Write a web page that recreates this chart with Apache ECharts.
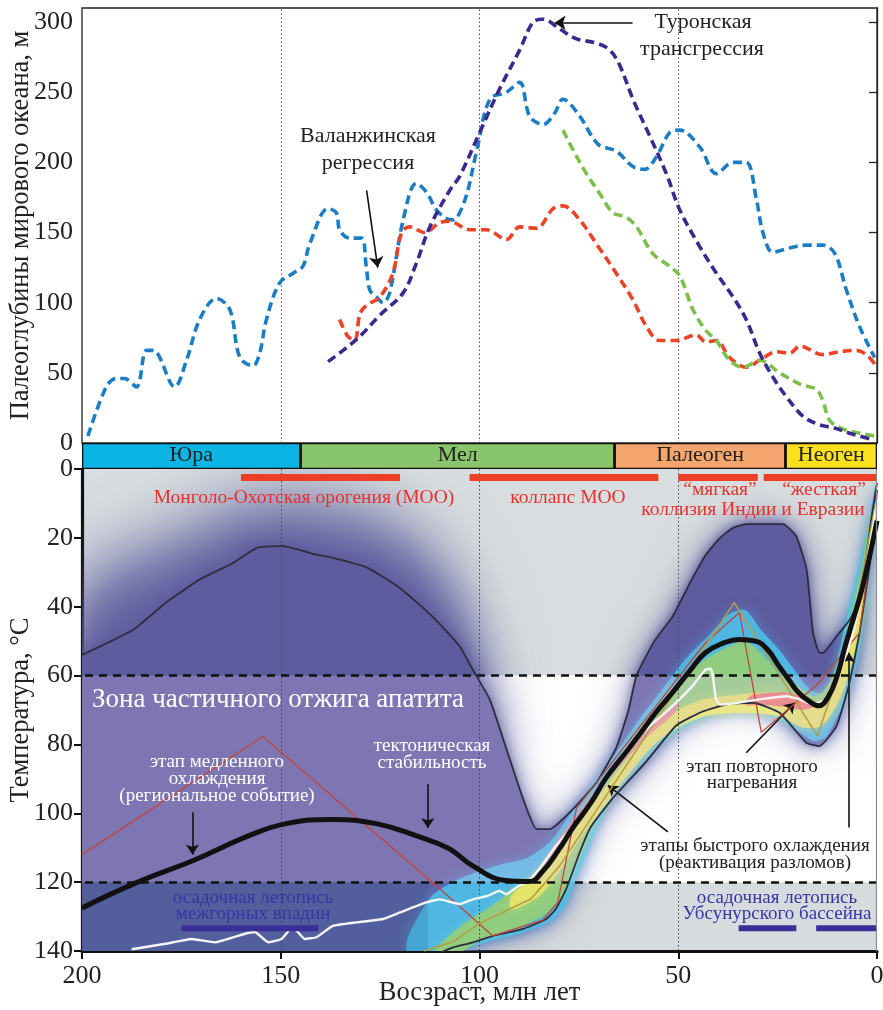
<!DOCTYPE html>
<html><head><meta charset="utf-8">
<script src="https://cdn.jsdelivr.net/npm/echarts@6/dist/echarts.min.js"></script>
<style>html,body{margin:0;padding:0;background:#fff}#c{width:883px;height:1010px}</style>
</head><body><div id="c"></div>
<script>
// ---------------- DATA ----------------
const depthTicks = [0, 50, 100, 150, 200, 250, 300];
const periodNames = ['Юра', 'Мел', 'Палеоген', 'Неоген'];
const periodStart = [200, 145, 66, 23];
const periodEnd = [145, 66, 23, 0];
const periodColors = ['#0ab4e4', '#88c56b', '#f5a66f', '#fbe11b'];
const epochLines = [150, 100, 50];

// sea level (age Ma, depth m)
const seaBlue = [[198.5,5],[193.9,40],[191.3,46],[189.3,46],[186.3,40],[183.8,66],[182.1,66],[176.7,40],[173.7,59],[170.4,88],[166.2,103],[162.8,95],[160.3,61],[157,55],[155.3,64],[153.6,88],[150.3,114],[146.9,121],[144.4,126],[142.7,142],[138.1,167],[136,164],[135.2,152],[132.7,146],[129.7,146],[128.5,126],[127.6,109],[125.9,104],[124.3,100],[122.6,107],[119.2,159],[115.9,185],[113.4,179],[110.8,166],[108.3,160],[106.7,159],[103.7,173],[100.8,207],[97.4,245],[93.2,250],[89.9,257],[87.4,233],[84,227],[81.1,235],[79,245],[74.8,233],[70.2,213],[65.6,208],[61.4,197],[58.4,195],[55.5,204],[52.2,221],[49.6,223],[44.6,211],[40.4,192],[36.2,200],[32.9,200],[30.3,173],[28.7,150],[26.2,136],[22,139],[17.8,141],[13.6,141],[10.6,135],[7.7,109],[4.4,83],[0.6,61]];
const seaPurple = [[138.1,58],[134.3,66],[130.1,76],[125.1,91],[119.2,107],[115.9,128],[112.5,154],[107.5,180],[105,190],[100,221],[95,252],[89.9,280],[86.5,300],[84,302],[79.8,295],[75.6,288],[70.6,285],[67.2,280],[64.7,269],[61.4,245],[57.2,219],[53,192],[49.6,166],[44.6,140],[40.4,121],[36.2,104],[32.9,88],[29.5,64],[26.2,47],[22.8,33],[18.6,19],[14.5,13],[11.1,11],[6.9,7],[1.9,3]];
const seaRed = [[135.2,88],[133.1,76],[131.4,73],[130.1,92],[128.5,98],[125.1,104],[121.8,121],[119.6,150],[117.6,154],[113.8,150],[110,157],[107.5,158],[102.5,152],[98.3,152],[93.2,145],[89.9,154],[85.7,153],[81.5,167],[79,169],[74.8,159],[70.6,142],[65.6,121],[61.4,102],[58,83],[54.7,73],[50.5,73],[45.5,77],[43,72],[40.4,73],[37.1,61],[32.9,54],[29.5,59],[25.3,65],[22,64],[19.4,69],[13.6,63],[9.4,65],[5.2,66],[2.7,63],[0.2,55]];
const seaGreen = [[79,223],[76.5,209],[73.1,192],[69.8,178],[66.4,164],[63.1,161],[60.5,154],[56.4,135],[52.2,126],[49.6,119],[46.3,95],[43,80],[40.4,73],[37.1,59],[33.7,54],[29.5,59],[24.5,50],[19.4,42],[15.2,38],[13.6,30],[11.9,16],[8.6,10],[4.4,7],[0.6,5]];

// thermal history (age Ma, temperature °C)
const envUpper = [[200,54],[187,46.6],[179,38.9],[170.4,32.1],[162,27.3],[156,22.9],[149.4,22.4],[141,24.9],[136.9,25.8],[128.5,28.5],[120.1,34.5],[111.7,43],[105,51.5],[101.6,58.5],[97.4,67],[93.2,81.4],[89,95.9],[85.7,104.6],[82.3,104.6],[76.5,98.8],[70.6,91.1],[65.6,81],[62.5,70],[60.5,60],[56,50],[51.4,42.8],[47,33],[43.1,25],[39.5,20],[36.2,17.1],[32.9,16],[23.6,16],[20.3,19.6],[17.7,29.2],[16.1,47.6],[14.5,53.4],[13.6,53.4],[10.2,48.6],[7,44],[4.4,38],[1.5,15],[0,4]];
const envLower = [[0,6],[1.5,25],[4.4,47.6],[6.9,62],[10.2,74.7],[14.5,80.5],[17.8,79.5],[24.5,70.8],[31.2,67.9],[37.9,68.4],[44,70.5],[50.5,74.5],[58.2,85.2],[66.6,95.8],[72,104],[74.8,111.4],[78.2,122],[80.8,127.8],[83.2,130.7],[89,133.6],[96.6,135.6],[101.6,137.5],[106.8,139],[110,140.5]];
const bestPath = [[200,127.5],[186,120],[172,113.7],[158,106.5],[148.6,103],[137,101.8],[126,103],[116,106.5],[107.6,110.3],[101.8,115.2],[93.4,119.5],[87.5,119.8],[84.2,117],[80,110.5],[76.7,104.5],[72,97],[68.3,90],[64,83.5],[60,77.5],[55.5,70.5],[51.5,65],[47,58.5],[43.1,53.3],[38.5,50.5],[34.8,49.5],[30.6,50],[27.5,52.5],[24.7,57.2],[22,61.5],[19.7,65],[17,67.5],[14.7,68.8],[12.2,66],[10,60],[8,51.4],[5.8,43],[3.8,35],[1.8,25],[0,15]];
const redPath = [[200,112],[154.5,77.7],[110,121.9],[96.7,135.6],[84.1,131],[80.3,125.8],[75.6,98.5],[52.2,63.8],[43.1,50.4],[34.6,41.7],[29.1,76.5],[14.5,62],[4.4,47.5],[0,10]];
const olivePath = [[114,140],[106.8,137.4],[100,132],[87,124.8],[79.8,115.2],[35.9,38.8],[15,77.5],[7,50.4],[0,8]];
const whitePath = [[187.5,139.5],[179,137.9],[172.4,136.5],[166.6,137.5],[159,135],[156.5,134.5],[153.1,137.5],[149.8,136.5],[147,133],[144,136.5],[141,136],[136.9,132.7],[131,131.7],[124.3,130.7],[120,128.8],[113.4,125.9],[110,125],[105,126.4],[101.6,125],[98,124],[95,122.5],[93.3,123.5],[90,121],[87.9,120],[85,116.2],[80.8,109.5],[76.5,103.7],[70,94],[63.1,81.4],[57.2,74.7],[52.2,69.7],[46.4,63],[43.1,58.2],[41.8,58],[41.3,60.2],[40.5,66.9],[39.6,68.4],[36.2,68.1],[29.5,66.9],[22.8,66],[19.5,66.9],[16.1,68.4],[12.8,66.9],[10.3,62],[6,47.6],[3,30],[0,10]];

// density regions
const hazeRegion = [[200,30],[185,21],[170,13],[160,8],[150,6],[140,7],[128,10],[118,16],[110,25],[104,38],[100,52],[98,68],[100,85],[200,85]];
const hazeCore = [[200,42],[185,33],[170,25],[160,19],[150,17],[140,18],[128,21],[118,27],[110,35],[105,46],[102,58],[102,85],[200,85]];
const cyanBand = [[118,136],[112,124],[105,119],[95,115],[88,113],[82,108],[77,100],[72,92],[66,83],[60,73],[54,64],[48,55],[42,48],[37,42],[33,41],[29,47],[25,52],[21,58],[17,64],[14,65],[11,60],[8,45],[5,30],[2,15],[0.5,5],[0.5,12],[2,30],[4,50],[7,65],[10,72],[13,78],[16,79],[20,76],[26,72],[34,70],[42,71.5],[50,76],[56,82],[61,88],[66,95],[70,103],[73,112],[76,120],[79,128],[83,132],[90,135],[100,138],[108,141],[118,141]];
const greenBand = [[112,141],[105,133],[97,127],[90,121],[84,116],[79,108],[74,99],[68,89],[62,79],[56,70],[50,62],[44,56],[38,52],[33,50],[28,55],[24,60],[20,63],[16,66],[13,64],[10,57],[7,45],[4,30],[1.5,12],[1.5,20],[4,42],[7,58],[10,68],[13,74],[16,75],[20,73],[26,71],[34,70],[42,71],[50,74],[56,79],[61,85],[66,92],[70,100],[73,108],[76,116],[79,124],[83,129],[90,133],[100,137],[106,141]];
const yellowBand = [[92,124],[86,118],[80,110],[74,101],[68,92],[62,83],[56,75],[50,70],[44,67],[38,66],[30,65],[24,65],[19,66],[15,68],[12,66],[9,58],[6,45],[3,30],[3,38],[6,55],[9,66],[12,72],[15,75],[19,75],[24,72],[30,71],[38,71],[44,72],[50,75],[56,80],[62,88],[68,97],[74,106],[80,117],[85,124],[92,128]];
const pinkA = [[84,114],[78,104],[72,95],[66,86],[60,77],[54,71],[50,68],[51,71],[57,77],[63,84],[69,92],[75,101],[81,111],[86,118]];
const pinkB = [[32,66],[27,65],[22,65],[18,67],[16,69],[19,70],[24,69],[29,68.5],[33,68.5]];

const pazLimits = [60, 120];
const redBars = [[160,120],[102.5,55],[50,30],[28.5,0]];
const redBarT = 2.5;
const blueBars = [[175,140.5],[34.8,20.3],[15.3,0]];
const blueBarT = 133.4;

// annotation arrows [from, to]
const topArrows = [[[128.4,180],[125.6,125]],[[61.5,299.4],[81.1,299.4]]];
const bottomArrows = [
  [[172.2,99.7],[172.2,112]],
  [[113,91.6],[113,104.3]],
  [[32.9,82.4],[20.7,67.9]],
  [[52.6,105.4],[67.7,91.9]],
  [[7.05,104.1],[7.05,53.4]]
];

// ---------------- CHART ----------------
const SERIF = '"Liberation Serif","DejaVu Serif",serif';
const chart = echarts.init(document.getElementById('c'), null, {renderer: 'canvas'});
const X0 = 82, XR = 6;
const SHIFT = 3000;

function custom(id, xi, yi, z, build) {
  return {type: 'custom', id, xAxisIndex: xi, yAxisIndex: yi, z, clip: true, silent: true,
    animation: false, data: [[0, 0]], encode: {x: 0, y: 1},
    renderItem: (params, api) => ({type: 'group', children: build(api)})};
}
const P = (api, pts) => pts.map(p => api.coord(p));
const purple = 'rgba(94,91,158,';
// blurred copy: only the shadow of an off-canvas shape is visible
const soft = (pts, blur, alpha) => ({type: 'polygon', x: -SHIFT, shape: {points: pts, smooth: 0.3},
  style: {fill: '#5e5b9e', shadowBlur: blur, shadowOffsetX: SHIFT, shadowColor: purple + alpha + ')'}});

const series = [];

// top curves
[[seaBlue, '#1b7dc4'], [seaRed, '#ec4327'], [seaGreen, '#7cc04b'], [seaPurple, '#3a2a8e']].forEach((c, i) => {
  series.push({type: 'line', xAxisIndex: 0, yAxisIndex: 0, data: c[0], smooth: 0.35, symbol: 'none',
    z: 5 + i, silent: true, animation: false,
    lineStyle: {color: c[1], width: 3.6, type: [9, 5]}});
});
series.push({type: 'line', xAxisIndex: 0, yAxisIndex: 0, data: [], z: 4, silent: true, animation: false,
  markLine: {silent: true, symbol: 'none', label: {show: false}, animation: false,
    lineStyle: {color: '#555', width: 1, type: [1.5, 2.5]},
    data: epochLines.map(v => ({xAxis: v}))}});
series.push({type: 'line', xAxisIndex: 0, yAxisIndex: 0, data: [], z: 9, silent: true, animation: false,
  markLine: {silent: true, symbol: ['none', 'arrow'], symbolSize: 11, label: {show: false}, animation: false,
    lineStyle: {color: '#111', width: 1.6, type: 'solid'},
    data: topArrows.map(a => [{coord: a[0]}, {coord: a[1]}])}});

// period bar
series.push(custom('periods', 2, 2, 5, api => {
  const ch = [];
  periodNames.forEach((n, i) => {
    const a = api.coord([periodStart[i], 1]), b = api.coord([periodEnd[i], 0]);
    ch.push({type: 'rect', shape: {x: a[0], y: a[1], width: b[0] - a[0], height: b[1] - a[1]},
      style: {fill: periodColors[i], stroke: '#111', lineWidth: 2.6}});
    ch.push({type: 'text', x: (a[0] + b[0]) / 2, y: (a[1] + b[1]) / 2 - 1,
      style: {text: n, font: '22px ' + SERIF, fill: '#222', align: 'center', verticalAlign: 'middle'}});
  });
  return ch;
}));
series.push({type: 'line', xAxisIndex: 2, yAxisIndex: 2, data: [], z: 8, silent: true, animation: false,
  markLine: {silent: true, symbol: 'none', label: {show: false}, animation: false,
    lineStyle: {color: '#444', width: 1, type: [1.5, 2.5]},
    data: epochLines.map(v => ({xAxis: v}))}});

// bottom plot backgrounds
series.push(custom('bg', 1, 1, 0, api => {
  const a = api.coord([200, 0]), b = api.coord([0, pazLimits[0]]), c = api.coord([0, pazLimits[1]]), d = api.coord([0, 140]);
  return [
    {type: 'rect', shape: {x: a[0], y: a[1], width: b[0] - a[0], height: b[1] - a[1]}, style: {fill: '#d8dedf'}},
    {type: 'rect', shape: {x: a[0], y: b[1], width: b[0] - a[0], height: c[1] - b[1]}, style: {fill: '#ffffff'}},
    {type: 'rect', shape: {x: a[0], y: c[1], width: b[0] - a[0], height: d[1] - c[1]}, style: {fill: '#d6dcdd'}}
  ];
}));
series.push(custom('haze', 1, 1, 1, api => [
  soft(P(api, hazeRegion), 60, 0.7),
  soft(P(api, hazeCore), 40, 0.75)
]));
series.push(custom('density', 1, 1, 2, api => {
  const main = P(api, envUpper.concat(envLower, [[200, 141]]));
  return [
    soft(main, 40, 0.6),
    {type: 'polygon', shape: {points: main}, style: {fill: '#5e5b9e', shadowBlur: 18, shadowColor: purple + '0.8)'}},
    {type: 'polygon', shape: {points: main}, style: {fill: '#5e5b9e', shadowBlur: 8, shadowColor: purple + '0.9)'}}
  ];
}));
series.push(custom('bands', 1, 1, 3, api => [
  {type: 'polygon', shape: {points: P(api, cyanBand), smooth: 0.25},
    style: {fill: 'rgba(78,190,230,0.88)', shadowBlur: 14, shadowColor: 'rgba(80,150,220,0.8)'}},
  {type: 'polygon', shape: {points: P(api, greenBand), smooth: 0.25},
    style: {fill: 'rgba(150,205,118,0.9)', shadowBlur: 10, shadowColor: 'rgba(110,205,195,0.8)'}},
  {type: 'polygon', shape: {points: P(api, yellowBand), smooth: 0.25},
    style: {fill: 'rgba(238,228,105,0.85)', shadowBlur: 8, shadowColor: 'rgba(200,225,110,0.8)'}},
  {type: 'polygon', shape: {points: P(api, pinkA), smooth: 0.3}, style: {fill: 'rgba(242,125,150,0.75)'}},
  {type: 'polygon', shape: {points: P(api, pinkB), smooth: 0.3}, style: {fill: 'rgba(240,105,120,0.85)'}}
]));
series.push(custom('overlays', 1, 1, 4, api => {
  const a = api.coord([200, pazLimits[0]]), b = api.coord([0, pazLimits[1]]);
  const c = api.coord([200, pazLimits[1]]), d = api.coord([113, 140]);
  const paz = {x: a[0], y: a[1], width: b[0] - a[0], height: b[1] - a[1]};
  return [
    {type: 'rect', shape: paz, style: {fill: 'rgba(255,255,255,0.19)'}},
    {type: 'polygon', shape: {points: P(api, envUpper.concat(envLower, [[200, 141]]))},
      clipPath: {type: 'rect', shape: paz}, style: {fill: 'rgba(150,80,210,0.07)'}},
    {type: 'rect', shape: {x: c[0], y: c[1], width: d[0] - c[0], height: d[1] - c[1] + 2}, style: {fill: 'rgba(40,110,150,0.22)'}}
  ];
}));
// dashed PAZ limits and dotted epoch lines
series.push({type: 'line', xAxisIndex: 1, yAxisIndex: 1, data: [], z: 6, silent: true, animation: false,
  markLine: {silent: true, symbol: 'none', label: {show: false}, animation: false,
    data: pazLimits.map(v => ({yAxis: v, lineStyle: {color: '#111', width: 2.6, type: [8, 6]}}))
      .concat(epochLines.map(v => ({xAxis: v, lineStyle: {color: '#444', width: 1, type: [1.5, 2.5]}})))}});
// paths
const pathDefs = [
  [envUpper, '#2e2d40', 1.8, 0.15, 7],
  [envLower, '#2e2d40', 1.8, 0.15, 7],
  [redPath, '#c2453a', 1.3, 0, 7],
  [olivePath, '#b19f45', 1.6, 0, 7],
  [whitePath, '#f4f4f4', 2.4, 0.1, 8],
  [bestPath, '#111111', 5, 0.45, 9]
];
pathDefs.forEach(d => {
  series.push({type: 'line', xAxisIndex: 1, yAxisIndex: 1, data: d[0], smooth: d[3], symbol: 'none',
    z: d[4], silent: true, animation: false, clip: true, lineStyle: {color: d[1], width: d[2]}});
});
// bars
series.push(custom('bars', 1, 1, 10, api => {
  const ch = [];
  redBars.forEach(b => {
    const a = api.coord([b[0], redBarT]), c = api.coord([b[1], redBarT]);
    ch.push({type: 'rect', shape: {x: a[0], y: a[1] - 3.5, width: c[0] - a[0], height: 7}, style: {fill: '#ec3f26'}});
  });
  blueBars.forEach(b => {
    const a = api.coord([b[0], blueBarT]), c = api.coord([b[1], blueBarT]);
    ch.push({type: 'rect', shape: {x: a[0], y: a[1] - 3, width: c[0] - a[0], height: 6}, style: {fill: '#3a2f98'}});
  });
  const r0 = api.coord([0, 0]), r1 = api.coord([0, 140]);
  ch.push({type: 'line', shape: {x1: r0[0] - 0.5, y1: r0[1], x2: r0[0] - 0.5, y2: r1[1]}, style: {stroke: '#8a8a8a', lineWidth: 1.2}});
  return ch;
}));
series.push({type: 'line', xAxisIndex: 1, yAxisIndex: 1, data: [], z: 11, silent: true, animation: false,
  markLine: {silent: true, symbol: ['none', 'arrow'], symbolSize: 10, label: {show: false}, animation: false,
    lineStyle: {color: '#111', width: 1.6, type: 'solid'},
    data: bottomArrows.map(a => [{coord: a[0]}, {coord: a[1]}])}});

// texts
function T(text, x, y, size, color, align) {
  return {type: 'text', x, y, z: 100, silent: true,
    style: {text, font: size + 'px ' + SERIF, fill: color, align: align || 'center', verticalAlign: 'middle'}};
}
const graphics = [
  T('Валанжинская', 368, 136, 22, '#222'), T('регрессия', 368, 163, 22, '#222'),
  T('Туронская', 703, 22, 22, '#222'), T('трансгрессия', 702, 49, 22, '#222'),
  T('Монголо-Охотская орогения (МОО)', 304, 498, 19.5, '#e8302a'),
  T('коллапс МОО', 568, 498, 19.5, '#e8302a'),
  T('“мягкая”', 720, 490, 19.5, '#e8302a'), T('“жесткая”', 824, 490, 19.5, '#e8302a'),
  T('коллизия Индии и Евразии', 753, 510, 19.5, '#e8302a'),
  T('Зона частичного отжига апатита', 92, 700, 27, '#ffffff', 'left'),
  T('этап медленного', 217, 762, 19, '#ffffff'), T('охлаждения', 217, 779, 19, '#ffffff'),
  T('(региональное событие)', 217, 796, 19, '#ffffff'),
  T('тектоническая', 432, 746, 19, '#ffffff'), T('стабильность', 432, 763, 19, '#ffffff'),
  T('этап повторного', 752, 767, 19, '#222'), T('нагревания', 752, 783, 19, '#222'),
  T('этапы быстрого охлаждения', 755, 846, 19, '#222'), T('(реактивация разломов)', 755, 863, 19, '#222'),
  T('осадочная летопись', 253, 898, 19, '#3535a5'), T('межгорных впадин', 253, 914, 19, '#3535a5'),
  T('осадочная летопись', 777, 898, 19, '#3535a5'), T('Убсунурского бассейна', 777, 914, 19, '#3535a5')
];

const axisFont = {fontFamily: SERIF, fontSize: 26, color: '#222'};
const nameFont = {fontFamily: SERIF, fontSize: 26.5, color: '#222'};
chart.setOption({
  backgroundColor: '#fff',
  animation: false,
  grid: [
    {left: X0, right: XR, top: 8, height: 435, show: true, borderColor: '#222', borderWidth: 1.3, backgroundColor: 'transparent', containLabel: false, outerBoundsMode: 'none'},
    {left: X0, right: XR, top: 469, height: 482, show: false, containLabel: false, outerBoundsMode: 'none'},
    {left: X0, right: XR, top: 443, height: 26, show: false, containLabel: false, outerBoundsMode: 'none'}
  ],
  xAxis: [
    {gridIndex: 0, type: 'value', min: 0, max: 200, inverse: true, show: false},
    {gridIndex: 1, type: 'value', min: 0, max: 200, interval: 50, inverse: true,
      axisLine: {show: true, onZero: false, lineStyle: {color: '#111', width: 3.2}},
      axisTick: {show: true, inside: false, length: 8, lineStyle: {color: '#111', width: 2}},
      axisLabel: Object.assign({margin: 12}, axisFont), splitLine: {show: false},
      name: 'Восзраст, млн лет', nameLocation: 'middle', nameGap: 29, nameMoveOverlap: false, nameTextStyle: nameFont},
    {gridIndex: 2, type: 'value', min: 0, max: 200, inverse: true, show: false}
  ],
  yAxis: [
    {gridIndex: 0, type: 'value', min: 0, max: 310,
      axisLine: {show: true, lineStyle: {color: '#222', width: 1.3}},
      axisTick: {show: true, inside: false, length: 8, customValues: depthTicks, lineStyle: {color: '#222', width: 1.3}},
      axisLabel: Object.assign({margin: 9, customValues: depthTicks}, axisFont), splitLine: {show: false},
      name: 'Палеоглубины мирового океана, м', nameLocation: 'middle', nameRotate: 90, nameGap: 47, nameMoveOverlap: false,
      nameTextStyle: nameFont},
    {gridIndex: 1, type: 'value', min: 0, max: 140, interval: 20, inverse: true,
      axisLine: {show: true, onZero: false, lineStyle: {color: '#111', width: 3.2}},
      axisTick: {show: true, inside: false, length: 8, lineStyle: {color: '#111', width: 2}},
      axisLabel: Object.assign({margin: 9}, axisFont), splitLine: {show: false},
      name: 'Температура, °C', nameLocation: 'middle', nameRotate: 90, nameGap: 47, nameMoveOverlap: false,
      nameTextStyle: nameFont},
    {gridIndex: 2, type: 'value', min: 0, max: 1, show: false}
  ],
  series: series,
  graphic: graphics
});
</script></body></html>
